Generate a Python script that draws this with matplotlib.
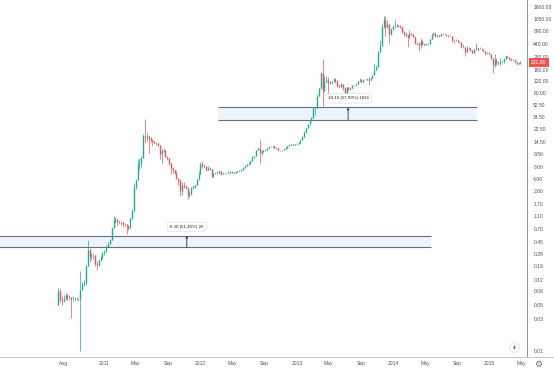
import numpy as np
import pandas as pd
import matplotlib
matplotlib.use("Agg")
import matplotlib.pyplot as plt
import matplotlib.dates as mdates

# ---------------- data (weekly candles) ----------------
start_week = "2010-07-12"
first_open = 0.05
closes = [0.080, 0.060, 0.058, 0.062, 0.070, 0.066, 0.065, 0.062, 0.062, 0.062,
          0.062, 0.061, 0.085, 0.100, 0.105, 0.190, 0.340, 0.270, 0.280, 0.280,
          0.210, 0.200, 0.240, 0.260, 0.300, 0.320, 0.380, 0.420, 0.480, 0.720,
          0.950, 0.980, 0.890, 0.890, 0.880, 0.840, 0.830, 0.780, 0.730, 1.000,
          1.300, 3.000, 3.800, 6.500, 7.000, 8.400, 18.00, 17.50, 18.00, 16.50,
          15.40, 14.90, 14.00, 13.80, 13.30, 9.70, 11.00, 11.00, 8.60, 8.20,
          7.00, 5.80, 5.50, 5.00, 4.20, 3.90, 2.60, 3.30, 3.00, 2.90,
          2.30, 2.40, 2.90, 3.00, 3.20, 3.95, 4.70, 6.80, 6.30, 6.40,
          5.40, 5.90, 5.60, 4.40, 4.90, 4.90, 4.90, 5.30, 4.70, 4.90,
          4.90, 4.95, 5.10, 5.00, 5.10, 5.00, 5.10, 5.20, 5.30, 5.50,
          5.90, 6.40, 6.70, 6.80, 7.60, 8.60, 8.80, 10.90, 11.70, 10.00,
          10.60, 10.90, 11.00, 11.60, 12.30, 12.40, 12.50, 11.90, 11.70, 10.80,
          10.80, 10.90, 11.40, 11.90, 12.50, 13.30, 13.50, 13.30, 13.40, 13.60,
          14.20, 15.40, 17.30, 20.50, 23.70, 27.00, 30.00, 34.00, 46.90, 47.00,
          71.0, 94.0, 162.0, 90.0, 119.0, 128.0, 115.0, 116.0, 122.0, 132.0,
          122.0, 103.0, 100.0, 108.0, 94.0, 76.0, 98.0, 91.0, 95.0, 104.0,
          106.0, 111.0, 121.0, 126.0, 118.0, 128.0, 127.0, 132.0, 125.0, 133.0,
          150.0, 180.0, 200.0, 330.0, 410.0, 800.0, 1000.0, 790.0, 870.0, 620.0,
          750.0, 820.0, 830.0, 840.0, 820.0, 800.0, 670.0, 620.0, 600.0, 560.0,
          640.0, 630.0, 570.0, 460.0, 450.0, 420.0, 490.0, 440.0, 430.0, 440.0,
          445.0, 520.0, 600.0, 650.0, 590.0, 605.0, 590.0, 630.0, 620.0, 620.0,
          600.0, 590.0, 590.0, 500.0, 515.0, 500.0, 480.0, 470.0, 400.0, 400.0,
          330.0, 390.0, 385.0, 355.0, 325.0, 365.0, 385.0, 375.0, 375.0, 370.0,
          350.0, 320.0, 320.0, 315.0, 270.0, 210.0, 255.0, 225.0, 225.0, 235.0,
          240.0, 260.0, 290.0, 285.0, 262.0, 250.0, 255.0, 236.0, 223.0, 225.0,
          231.56]
highs = [0.090, 0.088, 0.068, 0.070, 0.075, 0.072, 0.070, 0.066, 0.068, 0.065,
         0.065, 0.064, 0.160, 0.110, 0.120, 0.200, 0.480, 0.360, 0.300, 0.300,
         0.285, 0.230, 0.250, 0.270, 0.310, 0.335, 0.400, 0.450, 0.500, 0.750,
         1.100, 1.060, 1.000, 0.950, 0.940, 0.900, 0.860, 0.840, 0.800, 1.050,
         1.400, 3.500, 4.000, 8.000, 8.200, 8.900, 19.00, 31.90, 20.00, 17.50,
         17.00, 16.00, 15.00, 14.50, 14.00, 13.30, 11.50, 11.80, 11.00, 8.80,
         8.20, 7.00, 6.00, 5.50, 5.20, 4.20, 4.00, 3.60, 3.60, 3.20,
         3.00, 2.60, 3.10, 3.20, 3.30, 4.00, 5.20, 7.20, 7.40, 6.70,
         6.40, 6.20, 6.00, 5.60, 5.00, 5.10, 5.20, 5.40, 5.30, 5.00,
         5.00, 5.00, 5.20, 5.20, 5.20, 5.10, 5.20, 5.30, 5.40, 5.60,
         6.00, 6.60, 6.80, 6.90, 7.80, 9.00, 9.00, 11.00, 11.90, 15.40,
         11.00, 11.10, 11.30, 11.80, 12.60, 12.60, 12.80, 12.60, 12.00, 11.90,
         11.00, 11.00, 11.60, 12.00, 12.70, 13.50, 13.70, 13.60, 13.60, 13.80,
         14.30, 15.60, 17.80, 21.00, 24.00, 27.50, 30.50, 34.50, 48.00, 48.50,
         76.0, 96.0, 165.0, 266.0, 145.0, 144.0, 139.0, 120.0, 123.0, 133.0,
         136.0, 124.0, 109.0, 112.0, 109.0, 97.0, 99.0, 99.0, 99.0, 106.0,
         107.0, 112.0, 123.0, 135.0, 130.0, 130.0, 130.0, 135.0, 140.0, 135.0,
         152.0, 220.0, 215.0, 340.0, 500.0, 900.0, 1165.0, 1160.0, 1000.0, 880.0,
         780.0, 850.0, 1000.0, 880.0, 860.0, 850.0, 820.0, 700.0, 660.0, 600.0,
         710.0, 650.0, 630.0, 590.0, 480.0, 470.0, 540.0, 510.0, 460.0, 450.0,
         450.0, 530.0, 620.0, 680.0, 660.0, 610.0, 610.0, 650.0, 640.0, 630.0,
         620.0, 600.0, 595.0, 590.0, 525.0, 520.0, 500.0, 485.0, 470.0, 440.0,
         400.0, 410.0, 400.0, 385.0, 360.0, 370.0, 460.0, 400.0, 400.0, 380.0,
         375.0, 350.0, 335.0, 330.0, 300.0, 275.0, 310.0, 270.0, 240.0, 270.0,
         245.0, 275.0, 300.0, 295.0, 285.0, 270.0, 260.0, 260.0, 238.0, 238.0,
         240.0]
lows = [0.050, 0.055, 0.050, 0.055, 0.060, 0.060, 0.060, 0.032, 0.058, 0.058,
        0.059, 0.058, 0.010, 0.085, 0.095, 0.100, 0.190, 0.220, 0.240, 0.250,
        0.190, 0.170, 0.195, 0.230, 0.250, 0.280, 0.315, 0.375, 0.415, 0.480,
        0.720, 0.850, 0.780, 0.840, 0.800, 0.760, 0.780, 0.580, 0.680, 0.720,
        1.000, 1.500, 2.800, 3.800, 5.600, 6.000, 8.400, 14.00, 15.00, 10.00,
        14.50, 12.50, 13.80, 13.00, 12.80, 8.00, 7.00, 10.20, 8.50, 7.80,
        6.50, 4.80, 4.90, 4.70, 4.00, 3.30, 2.20, 2.30, 2.90, 2.80,
        2.00, 2.10, 2.30, 2.80, 2.90, 3.20, 3.90, 4.70, 5.80, 5.90,
        5.30, 5.40, 5.40, 4.20, 4.30, 4.80, 4.70, 4.90, 4.60, 4.70,
        4.80, 4.80, 4.90, 4.90, 4.90, 4.90, 5.00, 5.10, 5.10, 5.20,
        5.50, 5.90, 6.30, 6.50, 6.80, 7.50, 8.30, 8.80, 10.90, 7.10,
        9.20, 10.20, 10.60, 10.80, 11.60, 12.00, 12.30, 11.60, 11.30, 10.50,
        10.60, 10.50, 10.80, 11.40, 11.90, 12.50, 13.10, 13.00, 13.20, 13.20,
        13.50, 14.20, 15.40, 17.30, 19.90, 23.70, 26.50, 29.80, 34.00, 37.00,
        47.0, 71.0, 93.0, 50.0, 82.0, 118.0, 79.0, 108.0, 111.0, 120.0,
        115.0, 99.0, 98.0, 97.0, 90.0, 65.0, 76.0, 86.0, 89.0, 94.0,
        102.0, 104.0, 111.0, 120.0, 114.0, 118.0, 124.0, 126.0, 105.0, 124.0,
        133.0, 150.0, 180.0, 200.0, 320.0, 410.0, 780.0, 576.0, 780.0, 450.0,
        600.0, 720.0, 780.0, 800.0, 790.0, 770.0, 640.0, 580.0, 560.0, 400.0,
        550.0, 600.0, 560.0, 440.0, 420.0, 340.0, 380.0, 430.0, 420.0, 420.0,
        430.0, 445.0, 520.0, 620.0, 560.0, 570.0, 560.0, 590.0, 610.0, 610.0,
        590.0, 570.0, 575.0, 470.0, 460.0, 490.0, 470.0, 460.0, 390.0, 390.0,
        290.0, 330.0, 370.0, 345.0, 320.0, 320.0, 360.0, 350.0, 365.0, 360.0,
        345.0, 305.0, 310.0, 310.0, 265.0, 160.0, 200.0, 215.0, 210.0, 215.0,
        232.0, 230.0, 260.0, 280.0, 255.0, 240.0, 240.0, 225.0, 215.0, 220.0,
        218.0]

last_price = 231.56
price_ticks = [1600, 1050, 690, 440, 280, 180, 120, 80, 52.5, 34.5, 22.5, 14.5,
               9.5, 6, 4, 2.6, 1.7, 1.1, 0.7, 0.45, 0.29, 0.19, 0.12, 0.08,
               0.05, 0.03, 0.01]
time_tick_dates = ["2010-08-01", "2011-01-01", "2011-05-01", "2011-09-01",
                   "2012-01-01", "2012-05-01", "2012-09-01", "2013-01-01",
                   "2013-05-01", "2013-09-01", "2014-01-01", "2014-05-01",
                   "2014-09-01", "2015-01-01", "2015-05-01"]
time_tick_labels = ["Aug", "2011", "May", "Sep", "2012", "May", "Sep", "2013",
                    "May", "Sep", "2014", "May", "Sep", "2015", "May"]

# price-range drawings
range_lows = [0.372, 31.3]
range_highs = [0.558, 48.8]
range_starts = ["2009-10-01", "2012-03-08"]
range_ends = ["2014-05-25", "2014-11-13"]
range_arrows = ["2011-11-11", "2013-07-14"]
range_texts = ["0.20 (51.45%) 20", "18.16 (57.03%) 1816"]

# ---------------- figure ----------------
W, H = 554, 373
fig = plt.figure(figsize=(W / 100, H / 100), dpi=100)
fig.patch.set_facecolor("white")
ax = fig.add_axes([0, 16 / H, 527 / W, 357 / H])
ax.set_facecolor("white")
ax.set_yscale("log")

dates = pd.date_range(start_week, periods=len(closes), freq="W-MON")
x = mdates.date2num(dates.to_pydatetime())
c = np.array(closes)
o = np.concatenate([[first_open], c[:-1]])
h = np.maximum(np.array(highs), np.maximum(o, c))
l = np.minimum(np.array(lows), np.minimum(o, c))
up = c >= o
UP, DOWN = "#26a69a", "#ef5350"
cols = np.where(up, UP, DOWN)

ax.vlines(x, l, h, colors=cols, linewidth=0.5, zorder=3)
ax.vlines(x, np.minimum(o, c), np.maximum(o, c), colors=cols, linewidth=1.0,
          zorder=4)

# price range rectangles
for lo, hi, s, e, a, t in zip(range_lows, range_highs, range_starts,
                              range_ends, range_arrows, range_texts):
    xs = mdates.date2num(pd.Timestamp(s).to_pydatetime())
    xe = mdates.date2num(pd.Timestamp(e).to_pydatetime())
    xa = mdates.date2num(pd.Timestamp(a).to_pydatetime())
    ax.fill_between([xs, xe], lo, hi, color="#eef4fb", zorder=1, lw=0)
    ax.hlines([lo, hi], xs, xe, colors="#6b6e78", linewidth=0.8, zorder=2)
    ax.annotate("", xy=(xa, hi), xytext=(xa, lo),
                arrowprops=dict(arrowstyle="-|>", color="#4a4d57", lw=0.7,
                                mutation_scale=3, shrinkA=0, shrinkB=0),
                zorder=5)
    ax.annotate(t, xy=(xa, hi), xytext=(0, 6.3), textcoords="offset points",
                ha="center", va="center", fontsize=3.2, color="#222222",
                family="Liberation Sans",
                bbox=dict(boxstyle="round,pad=0.6,rounding_size=0.4",
                          fc="white", ec="#d6d8de", lw=0.4),
                zorder=6)

# axes limits
ax.set_xlim(mdates.date2num(pd.Timestamp("2009-12-04").to_pydatetime()),
            mdates.date2num(pd.Timestamp("2015-05-22").to_pydatetime()))
ax.set_ylim(0.00811, 2042)

# y axis on right
ax.yaxis.tick_right()
ax.set_yticks(price_ticks)
ax.set_yticklabels([f"{v:.2f}" for v in price_ticks])
ax.yaxis.set_minor_locator(matplotlib.ticker.NullLocator())
ax.tick_params(axis="y", length=0, pad=4.5, labelsize=3.6,
               labelcolor="#50535e")
for lab in ax.get_yticklabels():
    lab.set_family("Liberation Sans")

# x axis
ax.set_xticks(mdates.date2num(pd.to_datetime(time_tick_dates).to_pydatetime()))
ax.set_xticklabels(time_tick_labels)
ax.xaxis.set_minor_locator(matplotlib.ticker.NullLocator())
ax.tick_params(axis="x", length=0, pad=3.2, labelsize=3.6,
               labelcolor="#50535e")
for lab in ax.get_xticklabels():
    lab.set_family("Liberation Sans")

for s in ["top", "left"]:
    ax.spines[s].set_visible(False)
ax.spines["right"].set_color("#8f929b")
ax.spines["right"].set_linewidth(0.7)
ax.spines["bottom"].set_color("#c3c5cc")
ax.spines["bottom"].set_linewidth(0.7)
ax.grid(False)

# last price label
ax.annotate(f"{last_price:.2f}", xy=(1.0, last_price),
            xycoords=("axes fraction", "data"), xytext=(3.0, 0),
            textcoords="offset points", ha="left", va="center",
            fontsize=3.6, color="white", family="Liberation Sans",
            bbox=dict(boxstyle="square,pad=0.45", fc="#ef5350", ec="none"),
            annotation_clip=False, zorder=10)

# bottom line under price scale and UI icons
fig.add_artist(plt.Line2D([527 / W, 1], [16 / H, 16 / H],
                          transform=fig.transFigure, color="#c3c5cc", lw=0.7))
fig.add_artist(plt.Line2D([514 / W], [1 - 347 / H], marker="o", ms=7,
                          mfc="white", mec="#e0e2e6", mew=0.6,
                          transform=fig.transFigure))
fig.add_artist(plt.Line2D([514 / W], [1 - 347 / H], marker="d", ms=2.2,
                          mfc="#6b6e78", mec="none",
                          transform=fig.transFigure))
fig.text(538 / W, 1 - 364 / H, "\u2699", fontsize=6.5, color="#6b6e78",
         ha="center", va="center", family="DejaVu Sans")

fig.savefig("out.png", dpi=100, facecolor="white")
